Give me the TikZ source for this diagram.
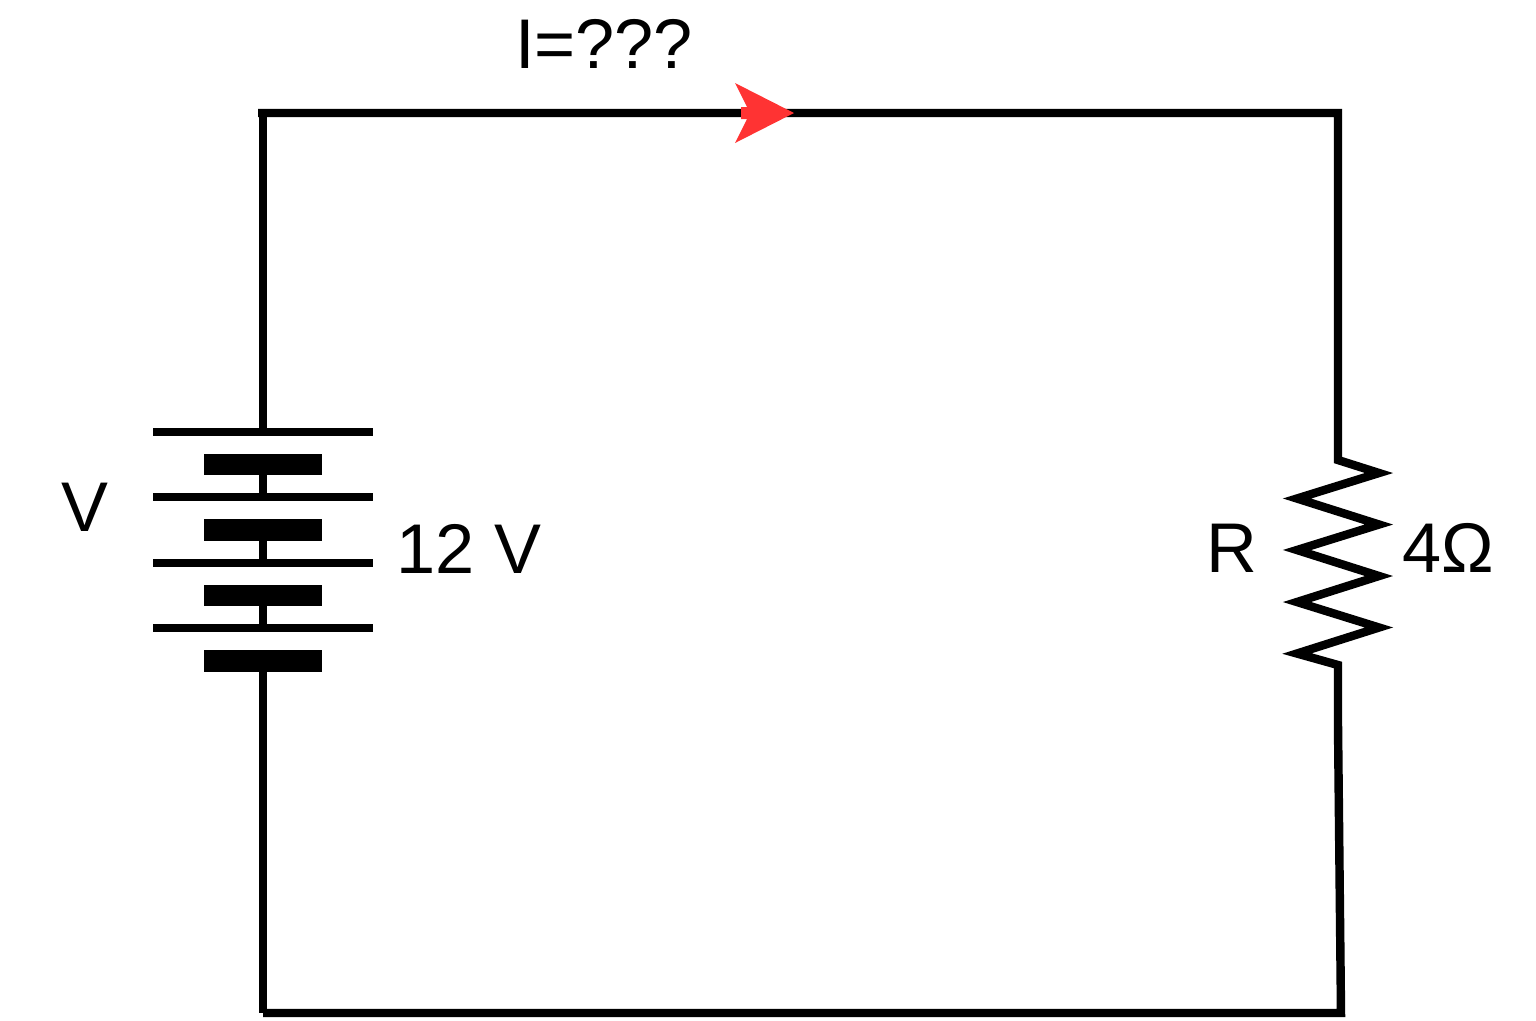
\documentclass[tikz,border=0pt]{standalone}
\usepackage{fontspec}
\setmainfont{Liberation Sans}
\definecolor{arrowred}{HTML}{FF3333}
\tikzset{
    wire/.style={line width=2.4pt, miter limit=10},
    longplate/.style={fill=black, inner sep=0pt, outer sep=0pt, minimum width=2.19cm, minimum height=0.085cm},
    shortplate/.style={fill=black, inner sep=0pt, outer sep=0pt, minimum width=1.175cm, minimum height=0.215cm},
    label/.style={inner sep=0pt, anchor=base, font=\fontsize{20pt}{24pt}\selectfont}
}
\begin{document}
\begin{tikzpicture}[x=0.01cm,y=-0.01cm]
    \useasboundingbox (0,0) rectangle (1536,1020);
    % battery
    \node[longplate] (plateA) at (263,432) {};
    \node[shortplate] (cellA) at (263,464.5) {};
    \node[longplate] (plateB) at (263,497) {};
    \node[shortplate] (cellB) at (263,530) {};
    \node[longplate] (plateC) at (263,563) {};
    \node[shortplate] (cellC) at (263,595.5) {};
    \node[longplate] (plateD) at (263,628) {};
    \node[shortplate] (cellD) at (263,661) {};
    \draw[wire] (cellA) -- (plateB);
    \draw[wire] (cellB) -- (plateC);
    \draw[wire] (cellC) -- (plateD);
    % corners of the loop
    \coordinate (topstart) at (258,113);
    \coordinate (topleft) at (263,113);
    \coordinate (topright) at (1338,113);
    \coordinate (resin) at (1338,460);
    \coordinate (resout) at (1338,665);
    \coordinate (bend) at (1338,725);
    \coordinate (botright) at (1341,1013);
    \coordinate (botleft) at (263,1013);
    % wires
    \draw[wire] (topstart) -- (topright) -- (resin)
        -- (1379,473) -- (1297,498.5) -- (1379,524.5) -- (1297,550) -- (1379,576)
        -- (1297,602) -- (1379,627.5) -- (1297,653.5) -- (resout)
        -- (bend) -- (botright) -- (botleft);
    \draw[wire] (topleft) -- (plateA);
    \draw[wire] (cellD) -- (botleft);
    % current arrow
    \fill[arrowred] (735,83) -- (794,113) -- (735,143) -- (747,119) -- (741,119) -- (741,107) -- (747,107) -- cycle;
    % labels
    \node[label] (current) at (604,68) {I=???};
    \node[label] (voltname) at (84.5,531) {V};
    \node[label] (voltval) at (469,573) {12 V};
    \node[label] (resname) at (1231.5,572) {R};
    \node[label] (resval) at (1448,572) {4Ω};
\end{tikzpicture}
\end{document}
